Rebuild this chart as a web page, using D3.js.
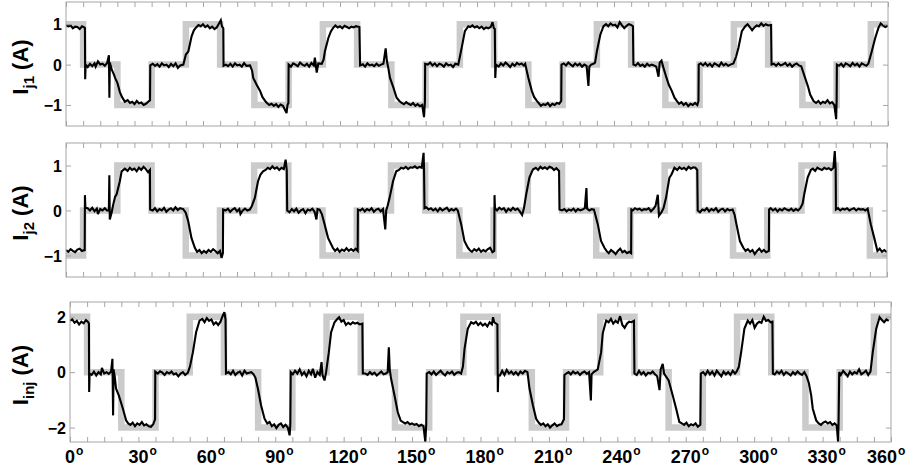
<!DOCTYPE html>
<html>
<head>
<meta charset="utf-8">
<script src="https://cdn.jsdelivr.net/npm/d3@7"></script>
<style>
  body { margin: 0; background: #fff; }
  svg { display: block; }
  text { font-family: "Liberation Sans", Arial, Helvetica, sans-serif; font-weight: bold; fill: #000; }
</style>
</head>
<body>
<svg id="chart" width="912" height="470"></svg>
<script>
// ---- angle axis ----
const angleLabels = [0, 30, 60, 90, 120, 150, 180, 210, 240, 270, 300, 330, 360];
const angleTicks = [0, 7.5, 15, 22.5, 30, 37.5, 45, 52.5, 60, 67.5, 75, 82.5, 90, 97.5, 105, 112.5,
  120, 127.5, 135, 142.5, 150, 157.5, 165, 172.5, 180, 187.5, 195, 202.5, 210, 217.5, 225, 232.5,
  240, 247.5, 255, 262.5, 270, 277.5, 285, 292.5, 300, 307.5, 315, 322.5, 330, 337.5, 345, 352.5, 360];

// ---- current axis ticks ----
const branchTicks = [-1, 0, 1];
const injTicks = [-2, 0, 2];

// ---- reference (ideal) currents: step edges in degrees and level of each step ----
const stepEdges = [0, 7.5, 22.5, 37.5, 52.5, 67.5, 82.5, 97.5, 112.5, 127.5, 142.5, 157.5, 172.5,
  187.5, 202.5, 217.5, 232.5, 247.5, 262.5, 277.5, 292.5, 307.5, 322.5, 337.5, 352.5, 360];
const ij1Levels = [1, 0, -1, 0, 1, 0, -1, 0, 1, 0, -1, 0, 1, 0, -1, 0, 1, 0, -1, 0, 1, 0, -1, 0, 1];
const ij2Levels = [-1, 0, 1, 0, -1, 0, 1, 0, -1, 0, 1, 0, -1, 0, 1, 0, -1, 0, 1, 0, -1, 0, 1, 0, -1];
const injLevels = [2, 0, -2, 0, 2, 0, -2, 0, 2, 0, -2, 0, 2, 0, -2, 0, 2, 0, -2, 0, 2, 0, -2, 0, 2];

// ---- measured currents: [angle (deg), current (A)] ----
const ij1Measured = [
  [0,0.98],[1,0.95],[2,0.97],[3,0.9],[4,0.94],[5,0.93],[6,0.88],[7,0.95],[8,0.92],[8.3,0.9],[8.4,-0.36],[8.6,0.0],
  [9.5,-0.06],[10.5,0.02],[11.5,-0.04],[12.5,0.03],[13,-0.05],[14,0.08],[15,0.0],[16,0.02],[17,-0.03],[18,0.04],[18.8,0.23],[19.0,-0.82],[19.2,0.05],
  [20,-0.12],[21,-0.25],[21.5,-0.33],[22.5,-0.45],[23.6,-0.68],[24.5,-0.8],[25.8,-0.92],[27,-0.88],[28,-0.95],[29,-0.92],[30,-0.98],[31,-0.9],[32,-0.96],[33,-0.94],[34,-1.0],[35,-0.97],[36,-0.92],[36.8,-0.88],[36.9,-0.02],
  [38,0.02],[39,-0.03],[40,0.01],[41,-0.05],[42,0.03],[43,-0.02],[44,0.0],[45,-0.06],[46,0.02],[47,-0.04],[48,0.03],[49,-0.08],[50,-0.02],[51.4,0.0],
  [52.5,0.25],[53.6,0.33],[55,0.7],[56,0.85],[57,0.92],[58,0.98],[59,0.95],[60,1.0],[61,0.93],[62,0.97],[63,0.9],[64,0.94],[65,0.88],[66,0.92],[67,1.02],[67.8,1.1],[68.3,0.95],[68.9,0.9],[69,-0.03],
  [70,0.0],[71,-0.04],[72,0.02],[73,-0.05],[74,0.03],[75,-0.02],[76,0.0],[77,-0.05],[78,0.04],[79,-0.03],[80.6,-0.02],
  [81.5,-0.15],[82,-0.33],[83.5,-0.5],[85,-0.65],[86,-0.8],[87.2,-0.9],[88,-0.95],[89,-1.0],[90,-0.97],[91,-1.02],[92,-0.98],[93,-1.05],[94,-0.99],[95,-1.02],[96.6,-1.2],[97,-1.0],[97.4,-0.95],[97.5,0.0],
  [98.5,-0.05],[99.5,0.03],[100.5,0.0],[101.5,-0.04],[102.5,0.05],[103.5,0.0],[104.5,-0.03],[105.5,0.02],[106.5,-0.05],[107.5,0.04],[108.5,-0.02],[109,0.17],[109.8,-0.2],[110.5,0.03],[112,0.02],
  [112.8,0.12],[113.4,0.33],[114.9,0.66],[116,0.82],[117,0.91],[118,0.97],[119,0.92],[120,0.95],[121,0.9],[122,0.96],[123,0.93],[124,0.9],[125,0.94],[126,0.92],[127,0.95],[128.5,0.93],[128.8,-0.02],
  [130,0.01],[131,-0.05],[132,0.03],[133,-0.02],[134,0.0],[135,-0.04],[136,0.02],[137,-0.03],[138,0.0],[139,0.02],[140,0.4],[140.5,0.1],[141.2,-0.1],
  [141.9,-0.33],[143.4,-0.57],[144.8,-0.82],[146,-0.9],[147,-0.95],[148,-0.98],[149,-0.93],[150,-0.97],[151,-1.0],[152,-0.95],[153,-1.02],[154,-0.98],[155,-1.03],[156,-1.0],[156.8,-1.3],[157.2,-0.9],[157.3,0.02],
  [158.5,0.0],[159.5,0.05],[160.5,-0.02],[161.5,0.03],[162.5,-0.04],[163.5,0.02],[164.5,0.0],[165.5,-0.05],[166.5,0.03],[167.5,-0.02],[168.5,0.0],[169.5,-0.06],[170.5,0.02],[171.8,0.0],
  [173.3,0.42],[174.7,0.83],[176.2,0.95],[177,0.93],[178,0.97],[179,0.92],[180,0.95],[181,0.9],[182,0.94],[183,0.88],[184,0.92],[185,0.9],[186,0.93],[186.8,1.05],[187.4,0.9],[187.8,0.88],[188,-0.33],[188.3,0.0],
  [189.5,-0.05],[190.5,0.03],[191.5,-0.02],[192.5,0.05],[193.5,0.0],[194.5,-0.06],[195.5,0.02],[196.5,-0.03],[197.5,0.04],[198.5,0.0],[199.5,0.03],[200.5,-0.02],[201.1,0.02],
  [202.5,-0.33],[204,-0.65],[205,-0.8],[206.2,-0.9],[207,-0.95],[208,-1.02],[209,-0.98],[210,-1.0],[211,-0.95],[212,-1.03],[213,-0.97],[214,-1.0],[215,-0.95],[216,-0.97],[216.9,-0.9],[217,0.0],
  [218,0.03],[219,-0.02],[220,0.05],[221,0.0],[222,-0.04],[223,0.03],[224,-0.02],[225,0.02],[226,-0.05],[227,0.0],[228,-0.03],[228.8,-0.53],[229.2,-0.05],[230,0.0],[231,0.02],[231.7,0.05],
  [232.5,0.33],[234,0.74],[235.4,0.95],[236.5,1.0],[237.5,0.95],[238.5,1.02],[239.5,0.97],[240.5,0.99],[241.5,0.92],[242.5,1.05],[243.5,0.97],[244.5,0.9],[245.5,0.96],[246.5,1.0],[247.5,0.98],[248.3,0.95],[248.5,0.0],
  [249.5,-0.02],[250.5,0.04],[251.5,-0.03],[252.5,0.0],[253.5,-0.05],[254.5,0.02],[255.5,-0.03],[256.5,0.0],[257.5,-0.02],[258.5,-0.05],[259.5,-0.3],[260,0.05],[260.8,0.1],[261.5,-0.05],
  [263,-0.33],[264,-0.5],[265.3,-0.65],[266.5,-0.82],[267.5,-0.9],[268.5,-0.97],[269.5,-0.93],[270.5,-1.0],[271.5,-0.95],[272.5,-1.03],[273.5,-0.97],[274.5,-1.0],[275.5,-0.95],[276.5,-1.0],[277,-0.9],[277.1,0.0],
  [278,0.03],[279,-0.02],[280,0.04],[281,-0.03],[282,0.02],[283,-0.05],[284,0.03],[285,0.0],[286,-0.04],[287,0.05],[288,-0.02],[289,0.02],[290,-0.03],[291,0.0],[292.3,0.03],
  [293.5,0.2],[294.5,0.42],[296,0.83],[297.5,0.95],[298.5,1.0],[299.5,0.93],[300.5,0.85],[301.5,0.92],[302.5,0.97],[303.5,0.95],[304.5,1.02],[305.5,0.96],[306.5,1.0],[307.5,0.97],[308.8,0.98],[309,0.0],
  [310,0.02],[311,-0.03],[312,0.03],[313,-0.02],[314,0.0],[315,0.04],[316,-0.03],[317,0.02],[318,-0.05],[319,0.0],[320,0.03],[321,-0.02],[322,-0.04],
  [323.7,-0.33],[325,-0.55],[325.9,-0.74],[327.4,-0.9],[328.5,-0.95],[329.5,-0.9],[330.5,-0.97],[331.5,-0.92],[332.5,-0.95],[333.5,-0.88],[334.5,-0.96],[335.5,-0.93],[336.5,-1.0],[337.3,-1.35],[337.5,-0.9],[337.6,0.0],
  [338.5,-0.03],[339.5,0.02],[340.5,-0.05],[341.5,0.03],[342.5,0.0],[343.5,-0.04],[344.5,0.04],[345.5,-0.02],[346.5,0.02],[347.5,-0.05],[348.5,0.03],[349.5,0.0],[350.5,-0.03],[351.4,0.02],
  [352.9,0.33],[354.4,0.66],[355.8,0.91],[356.8,1.02],[357.8,0.97],[358.8,0.93],[360,0.97]
];

const ij2Measured = [
  [0,-0.88],[1,-0.92],[2,-0.86],[3,-0.9],[4,-0.93],[5,-0.87],[6,-0.85],[7,-0.9],[8,-0.88],[8.2,-0.9],[8.3,0.34],[8.5,0.06],
  [9.5,0.05],[10.5,0.0],[11.5,0.06],[12.5,-0.02],[13.5,0.04],[14,-0.08],[15,0.03],[16,0.0],[17,0.05],[18,0.0],[18.8,0.0],[19,0.78],[19.2,-0.2],
  [20,-0.05],[20.7,0.13],[21.5,0.3],[22.2,0.36],[23.6,0.65],[24.4,0.87],[25.8,0.93],[27,0.88],[28,0.95],[29,0.9],[30,0.93],[31,0.87],[32,0.95],[33,0.9],[34,0.97],[35,0.92],[36,0.85],[36.8,0.9],[36.9,0.02],
  [38,0.0],[39,0.05],[40,-0.02],[41,0.03],[42,0.0],[43,0.06],[44,-0.03],[45,0.02],[46,0.05],[47,0.0],[48,0.07],[49,0.01],[50,0.05],[51.4,0.03],
  [52.5,-0.05],[53.6,-0.24],[55,-0.61],[56.5,-0.83],[57.5,-0.92],[58.5,-0.88],[59.5,-0.95],[60.5,-0.9],[61.5,-0.94],[62.5,-0.88],[63.5,-0.92],[64.5,-0.86],[65.5,-0.9],[66.5,-0.95],[67.5,-0.9],[68.2,-1.05],[68.8,-0.95],[68.9,0.02],
  [70,0.0],[71,0.04],[72,-0.03],[73,0.02],[74,0.05],[75,-0.02],[76,0.03],[76.5,-0.08],[77.5,0.0],[78.5,0.04],[79.5,0.0],[80.6,0.02],
  [81.5,0.1],[82.8,0.28],[84.2,0.65],[85.3,0.8],[86.4,0.87],[87.5,0.9],[88.5,0.95],[89.5,0.92],[90.5,0.98],[91.5,0.93],[92.5,0.96],[93.5,0.9],[94.5,0.95],[95.5,0.92],[96.3,1.13],[96.8,0.9],[97,0.0],
  [98,-0.04],[99,0.03],[100,-0.02],[101,0.04],[102,-0.05],[103,0.0],[104,0.03],[105,-0.06],[106,0.02],[107,0.0],[108,0.04],[109,-0.03],[109.8,-0.2],[110.3,0.03],[111.2,0.02],
  [112.2,-0.08],[113.4,-0.31],[114.9,-0.61],[117,-0.83],[118,-0.9],[119,-0.85],[120,-0.92],[121,-0.87],[122,-0.9],[123,-0.84],[124,-0.9],[125,-0.86],[126,-0.9],[127,-0.85],[127.9,-0.9],[128,0.02],
  [129,0.0],[130,0.04],[131,-0.02],[132,0.03],[133,0.0],[134,0.05],[135,-0.03],[136,0.02],[137,0.04],[138,-0.02],[139,0.03],[140,-0.42],[140.4,0.0],
  [141,0.1],[141.9,0.28],[143.4,0.65],[144.8,0.87],[146,0.9],[147,0.95],[148,0.93],[149,0.97],[150,0.92],[151,0.96],[152,0.95],[153,0.98],[154,0.94],[155,0.97],[156,0.95],[156.8,1.28],[157,0.9],[157.2,0.05],
  [158,0.07],[159,0.02],[160,0.05],[161,0.0],[162,0.04],[163,-0.02],[164,0.05],[165,0.0],[166,0.03],[167,0.06],[168,-0.01],[169,0.03],[170,0.0],[171,0.04],[171.8,0.0],
  [173.3,-0.31],[174.7,-0.68],[176.2,-0.83],[177,-0.88],[178,-0.92],[179,-0.86],[180,-0.9],[181,-0.85],[182,-0.92],[183,-0.88],[184,-0.91],[185,-0.86],[186,-0.83],[187,-0.93],[187.8,-0.9],[187.9,0.34],[188.1,0.05],
  [189,0.0],[190,0.06],[191,0.02],[192,0.05],[193,-0.03],[194,0.04],[195,0.0],[196,0.06],[197,0.01],[198,0.04],[199,-0.02],[200,-0.1],[200.8,0.05],
  [201.8,0.36],[203.2,0.73],[204.7,0.91],[206,0.95],[207,0.9],[208,0.97],[209,0.93],[210,0.96],[211,0.92],[212,0.97],[213,0.95],[214,0.9],[215,0.94],[216.2,0.88],[216.4,0.02],
  [217.5,0.0],[218.5,0.03],[219.5,-0.02],[220.5,0.02],[221.5,0.0],[222.5,0.04],[223.5,-0.02],[224.5,0.03],[225.5,0.0],[226.5,0.02],[227.5,0.05],[228.2,0.5],[228.5,0.04],[229.5,0.0],[230.5,0.03],[231.5,0.02],
  [233.2,-0.31],[234.6,-0.68],[236.1,-0.83],[237,-0.9],[238,-0.95],[239,-0.88],[240,-0.92],[241,-0.97],[242,-0.9],[243,-0.85],[244,-0.93],[245,-0.9],[246,-0.95],[247,-0.92],[247.8,-0.95],[247.9,0.02],
  [248.5,0.0],[249.5,0.05],[250.5,0.02],[251.5,0.04],[252.5,0.0],[253.5,0.03],[254.5,0.02],[255.5,0.05],[256.5,-0.02],[257.5,0.03],[258.5,0.1],[259.5,0.35],[260,-0.12],[261,-0.05],
  [262,0.05],[263.1,0.28],[264.6,0.73],[265.5,0.8],[266.8,0.95],[268,0.9],[269,0.96],[270,0.92],[271,0.95],[272,0.9],[273,0.97],[274,0.93],[275,0.96],[276,0.95],[276.8,0.9],[277,0.0],
  [278,-0.04],[279,0.02],[280,0.0],[281,0.05],[282,-0.02],[283,0.03],[284,0.0],[285,0.05],[286,-0.03],[287,0.02],[288,0.04],[289,-0.02],[290,0.03],[291,0.0],[292.3,0.02],
  [293.2,-0.1],[294,-0.31],[295.5,-0.68],[297,-0.83],[298,-0.9],[299,-0.86],[300,-0.92],[301,-0.88],[302,-0.97],[303,-0.9],[304,-0.85],[305,-0.92],[306,-0.88],[307,-0.93],[308.2,-0.9],[308.3,0.02],
  [309,0.05],[310,0.0],[311,0.04],[312,-0.02],[313,0.03],[314,0.0],[315,0.05],[316,0.02],[317,0.0],[318,0.04],[319,-0.01],[320,0.03],[321,0.0],[322,0.05],
  [323,0.15],[323.7,0.36],[325.2,0.73],[326.6,0.9],[327.5,0.93],[328.5,0.88],[329.5,0.95],[330.5,0.92],[331.5,0.9],[332.5,0.95],[333.5,0.92],[334.5,0.94],[335.5,0.9],[336.5,0.95],[337.1,1.32],[337.5,0.92],[337.6,0.02],
  [338.5,0.05],[339.5,0.0],[340.5,0.04],[341.5,0.02],[342.5,0.05],[343.5,0.0],[344.5,0.03],[345.5,0.05],[346.5,0.0],[347.5,0.04],[348.5,0.02],[349.5,0.03],[350.5,0.0],[351.5,0.04],
  [352.9,-0.31],[354.4,-0.61],[355.8,-0.9],[356.8,-0.85],[357.8,-0.92],[358.8,-0.88],[360,-0.93]
];

const injMeasured = [
  [0,1.85],[1,1.9],[2,1.78],[3,1.85],[4,1.72],[5,1.82],[6,1.76],[7,1.88],[8,1.8],[8.3,1.75],[8.4,-0.72],[8.6,-0.05],
  [9.5,-0.1],[10.5,0.02],[11.5,-0.12],[12.5,0.0],[13.5,-0.08],[14,0.15],[15,-0.05],[16,0.0],[17,-0.06],[18,0.02],[18.6,0.48],[18.9,-1.56],[19.1,0.1],[19.6,-0.15],
  [20.2,-0.6],[21.4,-0.84],[23.2,-1.32],[24.6,-1.74],[25.5,-1.85],[26.5,-1.9],[27.5,-1.82],[28.5,-1.95],[29.5,-1.85],[30.5,-1.9],[31.5,-1.8],[32.5,-1.92],[33.5,-1.88],[34.5,-1.95],[35.5,-1.97],[36.5,-1.88],[37.3,-1.7],[37.4,0.02],
  [38.5,-0.05],[39.5,0.03],[40.5,-0.02],[41.5,-0.1],[42.5,0.0],[43.5,-0.05],[44.5,0.02],[45.5,-0.08],[46.5,-0.04],[47.5,-0.15],[48.5,-0.05],[49.5,0.0],[50.5,-0.1],[51.7,-0.02],
  [52.6,0.2],[53.9,0.72],[55.3,1.44],[56.8,1.86],[58,1.92],[59,1.8],[60,1.95],[61,1.85],[62,1.9],[63,1.72],[64,1.8],[65,1.7],[66,1.82],[66.8,2.0],[67.7,2.16],[68.2,1.9],[68.4,-0.05],
  [69.5,0.0],[70.5,-0.08],[71.5,0.05],[72.5,-0.1],[73.5,-0.02],[74.5,0.02],[75.5,-0.12],[76.5,0.05],[77.5,-0.05],[78.5,-0.02],[79.5,0.0],[80.5,-0.08],
  [81.3,-0.2],[82.4,-0.6],[83.8,-1.2],[85.3,-1.68],[86.5,-1.85],[87.5,-1.8],[88.5,-1.95],[89.5,-1.88],[90.5,-2.02],[91.5,-1.9],[92.5,-1.85],[93.5,-1.98],[94.5,-1.9],[95.5,-2.0],[96.3,-2.28],[96.6,-1.9],[96.8,0.0],
  [97.7,-0.08],[98.7,0.05],[99.7,-0.05],[100.7,0.1],[101.7,-0.1],[102.7,0.0],[103.7,-0.15],[104.7,0.05],[105.7,-0.08],[106.5,0.12],[107.5,-0.2],[108.5,0.0],[109.5,-0.1],[110.3,0.36],[110.7,-0.1],[111.6,-0.3],[112.3,0.0],
  [113.5,0.72],[114.5,1.44],[116,1.8],[117,1.9],[118,1.98],[119,1.82],[120,1.88],[121,1.7],[122,1.78],[123,1.72],[124,1.8],[125,1.75],[126,1.78],[127,1.72],[128.2,1.75],[128.4,-0.05],
  [129.5,-0.05],[130.5,-0.1],[131.5,0.0],[132.5,-0.08],[133.5,-0.02],[134.5,-0.12],[135.5,-0.05],[136.5,0.02],[137.5,-0.08],[138.5,-0.05],[139.3,0.0],[139.8,0.9],[140.2,0.1],
  [140.8,-0.24],[142.3,-0.84],[143.7,-1.44],[145,-1.75],[146,-1.8],[147,-1.85],[148,-1.8],[149,-1.88],[150,-1.85],[151,-1.9],[152,-1.87],[153,-1.95],[154,-1.9],[155,-1.95],[155.8,-2.52],[156.2,-1.9],[156.4,-0.05],
  [157.5,0.0],[158.5,-0.08],[159.5,0.02],[160.5,-0.1],[161.5,-0.02],[162.5,0.05],[163.5,-0.05],[164.5,-0.12],[165.5,0.0],[166.5,-0.05],[167.5,0.02],[168.5,-0.1],[169.5,-0.02],[170.5,0.0],[171.5,-0.05],
  [172.3,0.2],[173,0.84],[174.4,1.56],[175.9,1.8],[177,1.75],[178,1.82],[179,1.7],[180,1.78],[181,1.68],[182,1.75],[183,1.65],[184,1.8],[185,1.72],[185.5,1.98],[186,1.8],[187.4,1.72],[187.6,-0.72],[187.8,-0.1],
  [188.5,-0.12],[189.5,0.05],[190.5,-0.1],[191.5,0.08],[192.5,-0.05],[193.5,0.02],[194.5,-0.08],[195.5,0.0],[196.5,-0.1],[197.5,0.02],[198.5,-0.05],[199.5,0.05],[200.6,0.0],
  [201.5,-0.6],[203,-1.2],[204.4,-1.68],[205.5,-1.82],[206.5,-1.9],[207.5,-1.85],[208.5,-1.95],[209.5,-1.88],[210.5,-2.0],[211.5,-1.92],[212.5,-1.85],[213.5,-1.95],[214.5,-1.9],[215.5,-1.88],[216.6,-1.7],[216.8,-0.1],
  [217.6,-0.05],[218.6,0.0],[219.6,-0.08],[220.6,0.02],[221.6,-0.05],[222.6,0.0],[223.6,-0.1],[224.6,-0.02],[225.6,0.02],[226.6,-0.06],[227.6,0.0],[228.4,-1.02],[228.7,-0.08],[229.6,0.0],[230.6,0.05],
  [231.4,0.1],[232.9,0.72],[233.6,1.4],[235.1,1.86],[236.2,1.8],[237.2,1.92],[238.2,1.75],[239.2,1.85],[240.2,1.78],[241.2,2.02],[242.2,1.7],[243.2,1.6],[244.2,1.75],[245.2,1.82],[246.2,1.8],[247.3,1.85],[247.5,-0.05],
  [248.5,-0.1],[249.5,0.05],[250.5,-0.08],[251.5,0.0],[252.5,-0.12],[253.5,-0.02],[254.5,-0.05],[255.5,0.02],[256.5,-0.08],[257.5,-0.15],[258.5,-0.65],[259,0.1],[259.9,0.3],[260.5,-0.05],
  [262.5,-0.3],[264.3,-0.84],[265.8,-1.32],[267.2,-1.8],[268.3,-1.85],[269.3,-1.9],[270.3,-1.82],[271.3,-1.95],[272.3,-1.88],[273.3,-1.92],[274.3,-1.85],[275.3,-1.97],[276.4,-1.9],[276.6,-0.05],
  [277.6,0.0],[278.6,-0.1],[279.6,0.05],[280.6,-0.08],[281.6,0.02],[282.6,-0.12],[283.6,0.05],[284.6,-0.05],[285.6,-0.15],[286.6,0.02],[287.6,-0.08],[288.6,0.0],[289.6,-0.1],[290.6,0.05],[291.6,-0.05],[292.3,0.02],
  [293.3,0.2],[294.3,0.72],[295.7,1.56],[297.2,1.86],[298.2,1.75],[299.2,1.88],[300.2,1.6],[301.2,1.75],[302.2,1.82],[303.2,1.78],[304.2,2.0],[305.2,1.85],[306.2,1.88],[307.2,1.8],[308,1.82],[308.2,-0.05],
  [309,-0.08],[310,0.02],[311,-0.05],[312,0.05],[313,-0.1],[314,0.0],[315,-0.05],[316,-0.12],[317,0.0],[318,-0.08],[319,0.02],[320,-0.05],[321,-0.1],[322,0.0],[323,-0.15],
  [324,-0.4],[325,-0.84],[325.7,-1.32],[327.2,-1.74],[328.3,-1.85],[329.3,-1.9],[330.3,-1.82],[331.3,-1.78],[332.3,-1.85],[333.3,-1.8],[334.3,-1.9],[335.3,-1.85],[336.2,-1.92],[336.8,-2.52],[337,-1.85],[337.3,0.0],
  [338,-0.1],[339,0.05],[340,-0.05],[341,-0.15],[342,0.02],[343,-0.08],[344,0.0],[345,-0.05],[346,0.1],[347,-0.08],[348,-0.02],[349,0.05],[350,-0.1],[351,0.02],
  [352,0.72],[353.5,1.56],[355,1.98],[356,1.88],[357,1.8],[358,1.9],[359,1.85]
];

// ---- layout ----
const svg = d3.select("#chart");
const FRAME = "#a6a6a6";

const panels = [
  { sub: "j1",  measured: ij1Measured, levels: ij1Levels, yDomain: [-1.52, 1.55], yTicks: branchTicks,
    x0: 66, x1: 888, y0: 2,   y1: 126 },
  { sub: "j2",  measured: ij2Measured, levels: ij2Levels, yDomain: [-1.48, 1.5],  yTicks: branchTicks,
    x0: 66, x1: 887, y0: 143, y1: 277 },
  { sub: "inj", measured: injMeasured, levels: injLevels, yDomain: [-2.52, 2.53], yTicks: injTicks,
    x0: 70, x1: 891, y0: 302, y1: 442, angleLabels: true }
];

const fmt = v => (v < 0 ? "\u2212" + Math.abs(v) : String(v));

panels.forEach((p, i) => {
  const x = d3.scaleLinear().domain([0, 360]).range([p.x0, p.x1]);
  const y = d3.scaleLinear().domain(p.yDomain).range([p.y1, p.y0]);
  const g = svg.append("g");

  const clipId = "clip" + i;
  svg.append("clipPath").attr("id", clipId)
    .append("rect").attr("x", p.x0).attr("y", p.y0)
    .attr("width", p.x1 - p.x0).attr("height", p.y1 - p.y0);

  const line = d3.line().x(d => x(d[0])).y(d => y(d[1]));

  // ideal stepped current
  const steps = [];
  p.levels.forEach((lv, k) => { steps.push([stepEdges[k], lv], [stepEdges[k + 1], lv]); });
  g.append("path").datum(steps)
    .attr("clip-path", `url(#${clipId})`)
    .attr("d", line)
    .attr("fill", "none").attr("stroke", "#cbcbcb")
    .attr("stroke-width", 6.5).attr("stroke-linejoin", "miter");

  // measured current
  g.append("path").datum(p.measured)
    .attr("clip-path", `url(#${clipId})`)
    .attr("d", line)
    .attr("fill", "none").attr("stroke", "#000")
    .attr("stroke-width", 2.1).attr("stroke-linejoin", "miter").attr("stroke-miterlimit", 3);

  // frame
  g.append("rect").attr("x", p.x0).attr("y", p.y0)
    .attr("width", p.x1 - p.x0).attr("height", p.y1 - p.y0)
    .attr("fill", "none").attr("stroke", FRAME).attr("stroke-width", 1);

  // inward ticks on all four sides
  const styleAxis = sel => {
    sel.select(".domain").remove();
    sel.selectAll(".tick line").attr("stroke", FRAME);
  };
  g.append("g").attr("transform", `translate(0,${p.y0})`)
    .call(d3.axisTop(x).tickValues(angleTicks).tickSize(-5).tickFormat(""))
    .call(styleAxis);
  g.append("g").attr("transform", `translate(0,${p.y1})`)
    .call(d3.axisBottom(x).tickValues(angleTicks).tickSize(-5).tickFormat(""))
    .call(styleAxis);
  g.append("g").attr("transform", `translate(${p.x1},0)`)
    .call(d3.axisRight(y).tickValues(p.yTicks).tickSize(-5).tickFormat(""))
    .call(styleAxis);
  const left = g.append("g").attr("transform", `translate(${p.x0},0)`)
    .call(d3.axisLeft(y).tickValues(p.yTicks).tickSize(-5).tickPadding(4).tickFormat(fmt))
    .call(styleAxis);
  left.selectAll(".tick text")
    .attr("font-family", null).attr("font-size", null)
    .style("font-size", "16px").attr("dy", "0.36em");
  left.attr("font-family", null).attr("font-size", null);

  // y-axis title: I with subscript, then unit
  const yc = (p.y0 + p.y1) / 2 + 3;
  const t = svg.append("text")
    .attr("transform", `translate(28,${yc}) rotate(-90)`)
    .attr("text-anchor", "middle")
    .style("font-size", "22px");
  t.append("tspan").text("I");
  t.append("tspan").text(p.sub).style("font-size", "15px").attr("dy", 6);
  t.append("tspan").text(" (A)").attr("dy", -6);

  // angle labels with degree marks
  if (p.angleLabels) {
    angleLabels.forEach(a => {
      const lab = svg.append("g");
      const num = lab.append("text").attr("x", 0).attr("y", 0)
        .attr("text-anchor", "middle").style("font-size", "18px").text(a);
      const w = num.node().getComputedTextLength();
      lab.append("text").attr("x", w / 2 + 1).attr("y", -8)
        .style("font-size", "12px").text("o");
      let cx = x(a);
      const rightEdge = cx + w / 2 + 9;
      if (rightEdge > 906) cx -= rightEdge - 906;
      lab.attr("transform", `translate(${cx},${p.y1 + 21})`);
    });
  }
});
</script>
</body>
</html>
